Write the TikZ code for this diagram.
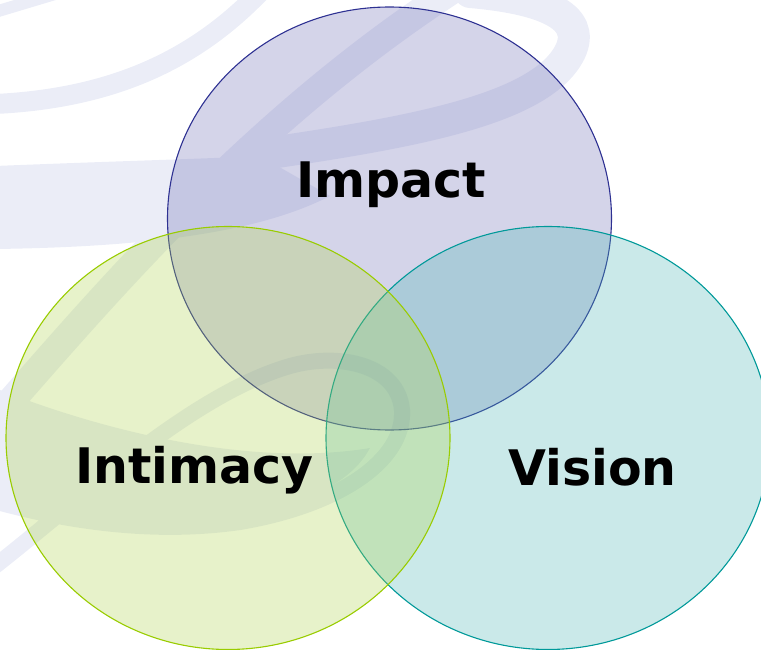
\documentclass[tikz,border=0pt]{standalone}
\usepackage{fontspec}
\usetikzlibrary{shapes.geometric}
\newfontfamily\labelfont{DejaVu Sans}
\definecolor{swirlc}{RGB}{235,237,247}
\definecolor{impfill}{RGB}{112,112,182}
\definecolor{impline}{RGB}{46,49,146}
\definecolor{intfill}{RGB}{175,212,78}
\definecolor{intline}{RGB}{153,204,0}
\definecolor{visfill}{RGB}{78,182,182}
\definecolor{visline}{RGB}{0,153,153}
\tikzset{
  swirlband/.style={draw=swirlc, line width=#1, line cap=round},
  vennset/.style={ellipse, inner sep=0pt, minimum width=444pt, minimum height=423pt,
                  line width=1.1pt, fill opacity=0.3, draw opacity=1},
  vennlabel/.style={font=\labelfont\bfseries\fontsize{49}{49}\selectfont, anchor=base, inner sep=0pt, text=black}
}
\begin{document}
\begin{tikzpicture}[x=1pt,y=-1pt]
\useasboundingbox (0,0) rectangle (761,650);
\clip (0,0) rectangle (761,650);
% background swirl
\fill[swirlc] (-5,166) .. controls (120,161) and (200,159) .. (260,156)
   -- (330,196) .. controls (260,232) and (150,247) .. (-5,249) -- cycle;
\draw[swirlband=32pt] (250,156) .. controls (400,134) and (540,112) .. (570,52)
   .. controls (588,15) and (540,-2) .. (470,-8);
\draw[swirlband=28pt] (-10,425) .. controls (100,300) and (250,120) .. (460,-15);
\draw[swirlband=20pt] (-5,104) .. controls (120,98) and (200,55) .. (262,-10);
\draw[swirlband=12pt] (-5,12) -- (55,-6);
\fill[swirlc] (-5,388) .. controls (100,430) and (250,468) .. (370,448)
   .. controls (345,495) and (270,518) .. (160,526)
   .. controls (90,528) and (30,515) .. (-5,500) -- cycle;
\draw[swirlband=16pt] (-10,500) .. controls (60,520) and (150,535) .. (240,522)
   .. controls (340,505) and (405,460) .. (402,410)
   .. controls (398,365) and (340,352) .. (290,366)
   .. controls (190,395) and (80,500) .. (-10,570);
% sets
\node[vennset, fill=impfill, draw=impline] (impact) at (389.5,218.5) {};
\node[vennset, fill=visfill, draw=visline] (vision) at (548,438) {};
\node[vennset, fill=intfill, draw=intline] (intimacy) at (228,438) {};
% labels
\node[vennlabel] (limpact) at (391,198) {Impact};
\node[vennlabel] (lintimacy) at (194.5,483) {Intimacy};
\node[vennlabel] (lvision) at (592.5,485) {Vision};
\end{tikzpicture}
\end{document}
